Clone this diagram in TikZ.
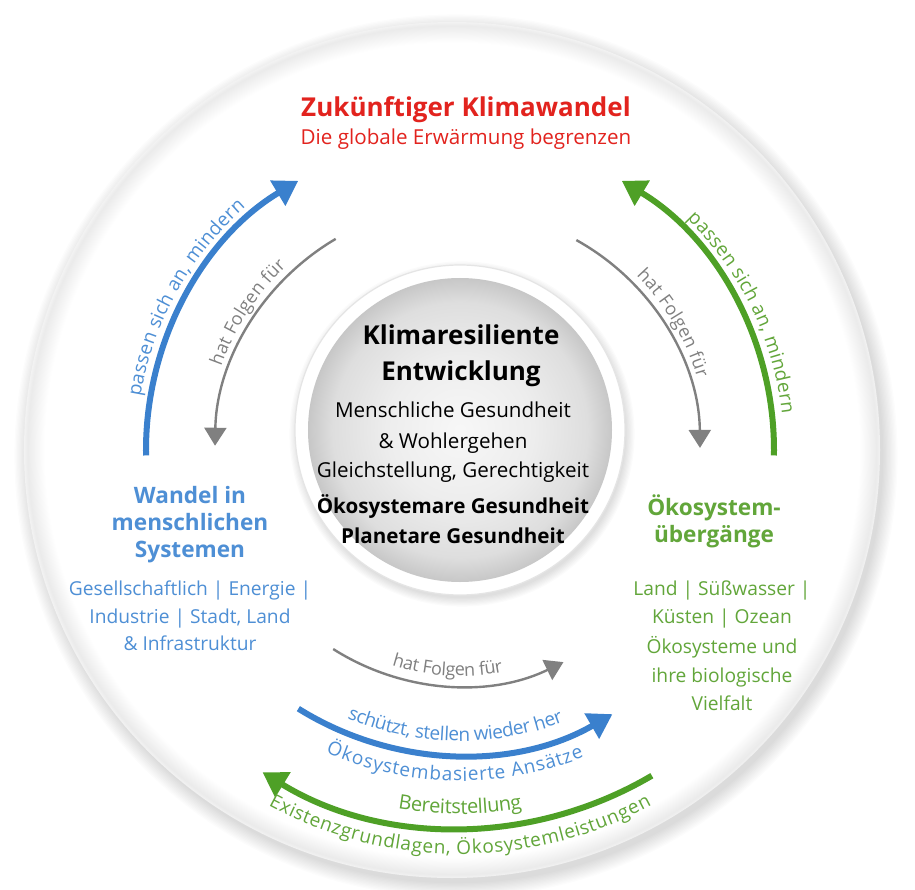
\documentclass[tikz,border=0pt]{standalone}
\usepackage{fontspec}
\setmainfont{Open Sans}
\usetikzlibrary{arrows.meta, decorations.text, positioning}

\definecolor{futurered}{RGB}{226,35,30}
\definecolor{humanblue}{RGB}{58,128,205}
\definecolor{humanlabel}{RGB}{78,143,213}
\definecolor{ecogreen}{RGB}{78,160,38}
\definecolor{ecolabel}{RGB}{98,166,58}
\definecolor{linkgrey}{RGB}{128,128,128}

\pgfdeclareradialshading{rim}{\pgfpoint{0bp}{0bp}}{color(0bp)=(white); color(23.8bp)=(white); color(24.8bp)=(gray!16); color(25bp)=(gray!10); color(50bp)=(gray!10)}
\pgfdeclareradialshading{core}{\pgfpoint{0bp}{0bp}}{color(0bp)=(gray!6); color(12bp)=(gray!14); color(21bp)=(gray!26); color(25bp)=(gray!44); color(50bp)=(gray!44)}

\newcommand\arcfont{\fontsize{9.5}{11}\selectfont}
\newcommand\linkfont{\fontsize{9}{11}\selectfont}

\begin{document}
\begin{tikzpicture}[x=0.5pt, y=0.5pt,
  every node/.style={inner sep=0pt, anchor=base},
  headline/.style={font=\bfseries\fontsize{13}{15}\selectfont, text=futurered},
  subline/.style={font=\fontsize{10.3}{12}\selectfont, text=futurered},
  corehead/.style={font=\bfseries\fontsize{13}{15}\selectfont},
  coretext/.style={font=\fontsize{10.3}{12}\selectfont},
  corebold/.style={font=\bfseries\fontsize{10.3}{12}\selectfont},
  sidehead/.style={font=\bfseries\fontsize{11.3}{13}\selectfont},
  sidetext/.style={font=\fontsize{9.6}{11}\selectfont},
  ring/.style={line width=3pt, -{Triangle[length=12pt, width=14pt]}},
  link/.style={draw=linkgrey, line width=1.2pt, -{Triangle[length=9pt, width=11pt]}}
 ]
 \useasboundingbox (-460,-439) rectangle (455,450);

 % disc and centre
 \foreach \s in {1,...,12}
  \fill [black, opacity=.012] (-4,-6) circle (426+\s*1.3);
 \shade [shading=rim] (-8,0) circle (428);
 \foreach \s in {1,...,8}
  \fill [black, opacity=.015] (2,16) circle (163+\s*1.2);
 \fill [white] (0,20) circle (165);
 \draw [gray!20, line width=.6pt] (0,20) circle (165);
 \shade [shading=core] (0,20) circle (152);

 \node [headline] (future) at (6,333) {Zukünftiger Klimawandel};
 \node [subline] (limit) at (6,305) {Die globale Erwärmung begrenzen};

 \node [corehead] (klima) at (1,105) {Klimaresiliente};
 \node [corehead] (entw) at (1,70) {Entwicklung};
 \node [coretext] (mensch) at (-7,33) {Menschliche Gesundheit};
 \node [coretext] (wohl) at (-7,2) {\& Wohlergehen};
 \node [coretext] (gleich) at (-7,-27) {Gleichstellung, Gerechtigkeit};
 \node [corebold] (oeko) at (-7,-63) {Ökosystemare Gesundheit};
 \node [corebold] (planet) at (-7,-93) {Planetare Gesundheit};

 \node [sidehead, text=humanlabel] (wandel) at (-270,-53) {Wandel in};
 \node [sidehead, text=humanlabel] (mensch2) at (-270,-80) {menschlichen};
 \node [sidehead, text=humanlabel] (system) at (-270,-107) {Systemen};
 \node [sidetext, text=humanlabel] (sector1) at (-270,-145) {Gesellschaftlich | Energie |};
 \node [sidetext, text=humanlabel] (sector2) at (-270,-173) {Industrie | Stadt, Land};
 \node [sidetext, text=humanlabel] (sector3) at (-270,-200) {\& Infrastruktur};

 \node [sidehead, text=ecolabel] (eco1) at (254,-65) {Ökosystem-};
 \node [sidehead, text=ecolabel] (eco2) at (254,-92) {übergänge};
 \node [sidetext, text=ecolabel] (biome1) at (262,-145) {Land | Süßwasser |};
 \node [sidetext, text=ecolabel] (biome2) at (262,-173) {Küsten | Ozean};
 \node [sidetext, text=ecolabel] (biome3) at (262,-203) {Ökosysteme und};
 \node [sidetext, text=ecolabel] (biome4) at (262,-232) {ihre biologische};
 \node [sidetext, text=ecolabel] (biome5) at (262,-260) {Vielfalt};

 % adapt, mitigate
 \draw [ring, draw=humanblue, postaction={decorate,decoration={raise=5pt,text along path,text align=center,text={|\arcfont\color{humanlabel}|passen sich an, mindern}}}]
  (181:314) arc [start angle=181, end angle=121, radius=314];
 \draw [ring, draw=ecogreen] (-1:314) arc [start angle=-1, end angle=59, radius=314];
 \path [decorate,decoration={raise=5pt,text along path,text align=center,text={|\arcfont\color{ecolabel}|passen sich an, mindern}}]
  (50:314) arc [start angle=50, end angle=2, radius=314];

 % consequences
 \draw [link] (120.5:245) arc [start angle=120.5, end angle=179, radius=245];
 \path [decorate,decoration={raise=4pt,text along path,text align=center,text={|\linkfont\color{linkgrey}|hat Folgen für}}]
  (165:245) arc [start angle=165, end angle=129, radius=245];
 \draw [link, postaction={decorate,decoration={raise=4pt,text along path,text align=center,text={|\linkfont\color{linkgrey}|hat Folgen für}}}]
  (61:240) arc [start angle=61, end angle=0.5, radius=240];
 \draw [link, postaction={decorate,decoration={raise=5pt,text along path,text align=center,text={|\linkfont\color{linkgrey}|hat Folgen für}}}]
  (237.5:236) arc [start angle=237.5, end angle=296, radius=236];

 % protect, restore / provide
 \draw [ring, draw=humanblue,
  postaction={decorate,decoration={raise=7pt,text along path,text align=center,text={|\arcfont\color{humanlabel}|schützt, stellen wieder her}}},
  postaction={decorate,decoration={raise=-13pt,text along path,text align=center,text={|\arcfont\color{humanlabel}|Ökosystembasierte Ansätze}}}]
  (238:305) arc [start angle=238, end angle=300, radius=305];
 \draw [ring, draw=ecogreen] (300.5:378) arc [start angle=300.5, end angle=238.5, radius=378];
 \path [postaction={decorate,decoration={raise=7pt,text along path,text align=center,text={|\fontsize{10}{12}\selectfont\color{ecolabel}|Bereitstellung}}},
  postaction={decorate,decoration={raise=-13pt,text along path,text align=center,text={|\arcfont\color{ecolabel}|Existenzgrundlagen, Ökosystemleistungen}}}]
  (236:378) arc [start angle=236, end angle=304, radius=378];
\end{tikzpicture}
\end{document}
